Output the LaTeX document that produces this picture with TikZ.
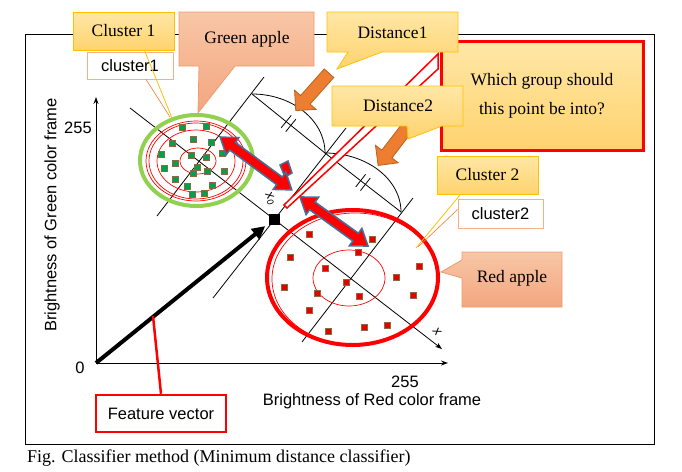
\documentclass[tikz,border=0pt]{standalone}
\usepackage{fontspec}
\setmainfont{Liberation Serif}
\setsansfont{Liberation Sans}
\usetikzlibrary{arrows.meta,shapes.arrows}

\definecolor{goldline}{HTML}{FFC000}
\definecolor{goldtop}{HTML}{FFE7A6}
\definecolor{goldbot}{HTML}{FFD36E}
\definecolor{salmontop}{HTML}{F8C6A6}
\definecolor{salmonbot}{HTML}{F3A67F}
\definecolor{salmonline}{HTML}{EE9B6E}
\definecolor{orangefill}{HTML}{ED7D31}
\definecolor{orangeline}{HTML}{B5631F}
\definecolor{applegreen}{HTML}{92D050}
\definecolor{dotgreen}{HTML}{00A050}
\definecolor{dotrim}{HTML}{8C6A3C}
\definecolor{slateline}{HTML}{41719C}
\definecolor{lightorange}{HTML}{F4B183}

\tikzset{
  lblserif/.style={font=\fontsize{17.5}{20}\selectfont, inner sep=0pt},
  lblsans/.style={font=\sffamily\fontsize{16.5}{19}\selectfont, inner sep=0pt},
  axlbl/.style={font=\sffamily\itshape\fontsize{13}{13}\selectfont, inner sep=0pt},
  goldbox/.style={draw=goldline, line width=0.8pt, top color=goldtop, bottom color=goldbot},
  salmonbox/.style={draw=salmonline, line width=0.8pt, top color=salmontop, bottom color=salmonbot},
  tagbox/.style={draw=lightorange, line width=0.8pt, fill=white, inner sep=0pt},
  gdot/.style={rectangle, fill=dotgreen, draw=dotrim, line width=0.6pt, minimum size=6pt, inner sep=0pt},
  rdot/.style={rectangle, fill=red!90!black, draw=dotrim, line width=0.6pt, minimum size=6pt, inner sep=0pt},
  dblarr/.style={double arrow, draw=slateline, line width=1.5pt, fill=red, inner xsep=0pt, inner ysep=4pt,
    double arrow head extend=6pt, double arrow tip angle=70, minimum height=#1},
  orarr/.style={single arrow, draw=orangeline, line width=0.8pt, fill=orangefill, inner xsep=0pt, inner ysep=6pt,
    single arrow head extend=8pt, single arrow tip angle=90, minimum height=#1},
  dimticks/.pic={\draw[line width=0.8pt] (-3,-8) -- (-3,8) (3,-8) -- (3,8);}
}

\begin{document}
\begin{tikzpicture}[x=1pt, y=-1pt]
    \useasboundingbox (0,0) rectangle (682,471);

    % Frame
    \draw[line width=0.9pt] (25,34) rectangle (654,444);

    % Axes
    \coordinate (O) at (96,363);
    \coordinate (xend) at (448,363);
    \coordinate (yend) at (96,97);
    \draw[line width=1pt, -{Stealth[length=7pt,width=5pt]}] (O) -- (xend);
    \draw[line width=1pt, -{Stealth[length=7pt,width=5pt]}] (O) -- (yend);

    % Projection axis through both clusters and the perpendiculars
    \coordinate (Ls) at (130,108);
    \coordinate (Le) at (442,349);
    \draw[line width=0.8pt, -{Stealth[length=7pt,width=5pt]}] (Ls) -- (Le);
    \coordinate (P1s) at (157,216);  \coordinate (P1e) at (264,77);
    \coordinate (P2s) at (213,298);  \coordinate (P2e) at (346,128);
    \coordinate (P3s) at (302,342);  \coordinate (P3e) at (413,198);
    \draw[line width=0.8pt] (P1s) -- (P1e);
    \draw[line width=0.8pt] (P2s) -- (P2e);
    \draw[line width=0.8pt] (P3s) -- (P3e);

    % Equal distances
    \coordinate (A) at (252,94);
    \coordinate (B) at (325,153);
    \coordinate (C) at (401,212);
    \draw[line width=0.8pt] (A) -- (B) -- (C);
    \draw[line width=0.8pt] (A) arc[start angle=90, end angle=0, x radius=73pt, y radius=59pt];
    \draw[line width=0.8pt] (B) arc[start angle=90, end angle=0, x radius=76pt, y radius=59pt];
    \pic[rotate=-39] at (288.5,123.5) {dimticks};
    \pic[rotate=-38] at (363,182.5) {dimticks};

    % Cluster 1 - green apple
    \draw[applegreen, line width=4pt] (196.5,160.5) ellipse[x radius=56.5pt, y radius=45.5pt];
    \draw[red, line width=0.7pt] (196,161) ellipse[x radius=50pt, y radius=40pt];
    \draw[red, line width=0.7pt] (196,161) ellipse[x radius=47pt, y radius=38pt];
    \draw[red, line width=0.7pt] (196,161) ellipse[x radius=39pt, y radius=31pt];
    \draw[red, line width=0.7pt] (198,161) ellipse[x radius=18pt, y radius=13pt];
    \foreach \x/\y [count=\i] in {182/127, 206/126, 172/143, 193/139, 211/142, 161/154, 191/155,
        206/157, 222/153, 175/163, 164/168, 197/167, 193/173, 207/171, 224/171, 175/179,
        187/186, 212/185, 192/194, 204/193}
        \node[gdot] (g\i) at (\x,\y) {};

    % Cluster 2 - red apple
    \draw[red, line width=4pt] (352.5,277.5) ellipse[x radius=85.5pt, y radius=67.5pt];
    \draw[red, line width=0.7pt] (355,279) ellipse[x radius=83pt, y radius=66pt];
    \draw[red, line width=0.7pt] (349,278) ellipse[x radius=36pt, y radius=28pt];
    \foreach \x/\y [count=\i] in {309/234, 372/239, 358/252, 290/257, 325/268, 419/266,
        396/277, 346/282, 284/287, 359/296, 317/293, 413/295, 309/310, 328/331,
        364/327, 387/325}
        \node[rdot] (r\i) at (\x,\y) {};

    % Feature vector and unknown point
    \node[fill=black, minimum size=11pt, inner sep=0pt] (x0) at (274,219) {};
    \draw[line width=4pt, shorten >=4pt, -{Triangle[length=13pt,width=13pt]}] (O) -- (x0);
    \node[axlbl, rotate=-62] (x0lbl) at (270,199) {x\textsubscript{0}};
    \node[axlbl, rotate=-50] (xlbl) at (437,332) {x};

    % Distance arrows
    \draw[slateline, line width=1.5pt, fill=red] (280,165) -- (288,161) -- (292,173) -- (285,177) -- cycle;
    \node[dblarr=89pt, rotate=-36.4] (d1) at (256,163.5) {};
    \node[dblarr=84pt, rotate=-35.8] (d2) at (334,221.5) {};

    % Question box
    \draw[red, line width=1.5pt, fill=white] (438,54) -- (284,205) -- (287,208) -- (438,69) -- cycle;
    \node[goldbox, draw=red, line width=3pt, minimum width=202pt, minimum height=109pt, align=center,
        font=\fontsize{17.5}{29}\selectfont] (ask) at (542,95.5) {Which group should\\this point be into?};

    % Orange arrows
    \node[orarr=50pt, rotate=228.3] (o1) at (314.5,89.5) {};
    \node[orarr=54pt, rotate=232.5] (o2) at (396.5,141.5) {};

    % Callouts
    \path[salmonbox] (179,12) -- (314,12) -- (314,66) -- (235,66) -- (198,113) -- (199,66) -- (179,66) -- cycle;
    \node[lblserif] (green) at (247,39) {Green apple};
    \path[goldbox] (327,12) -- (458,12) -- (458,52) -- (382,52) -- (337,69) -- (348,52) -- (327,52) -- cycle;
    \node[lblserif] (dist1) at (392.5,33) {Distance1};
    \path[goldbox] (332,86) -- (463,86) -- (463,126) -- (442,126) -- (408,139) -- (407,126) -- (332,126) -- cycle;
    \node[lblserif] (dist2) at (398,106) {Distance2};
    \path[salmonbox] (462,252) -- (562,252) -- (562,307) -- (462,307) -- (462,278) -- (441,272) -- (462,260) -- cycle;
    \node[lblserif] (redapp) at (512,278) {Red apple};

    % Cluster tags
    \node[goldbox, lblserif, minimum width=101pt, minimum height=38pt] (clus1) at (123.5,31) {Cluster 1};
    \node[tagbox, lblsans, minimum width=86pt, minimum height=27pt] (tag1) at (130,65.5) {cluster1};
    \node[goldbox, lblserif, minimum width=101pt, minimum height=38pt] (clus2) at (487.5,175) {Cluster 2};
    \node[tagbox, lblsans, minimum width=85pt, minimum height=29pt] (tag2) at (500.5,213.5) {cluster2};
    \coordinate (c1a) at (172,118);
    \coordinate (c1b) at (170,117);
    \coordinate (c2a) at (416,248);
    \coordinate (c2b) at (418,247);
    \draw[goldline, line width=0.8pt] ([xshift=21pt]clus1.south) -- (c1a);
    \draw[orangefill, line width=0.6pt] ([xshift=16pt]tag1.south) -- (c1b);
    \draw[goldline, line width=0.8pt] ([xshift=-27pt]clus2.south) -- (c2a);
    \draw[orangefill, line width=0.6pt] ([yshift=4pt]tag2.west) -- (c2b);

    % Feature vector tag
    \coordinate (fvpt) at (153,316);
    \node[lblsans, draw=red, line width=2.5pt, fill=white, minimum width=130pt, minimum height=37pt] (fv) at (161,413.5) {Feature vector};
    \draw[red, line width=2.5pt] (fv.north) -- (fvpt);

    % Axis labels
    \node[lblsans] (ymax) at (78,128) {255};
    \node[lblsans] (zero) at (80,368) {0};
    \node[lblsans] (xmax) at (405,382) {255};
    \node[lblsans] (xlab) at (372,401) {Brightness of Red color frame};
    \node[lblsans, rotate=90] (ylab) at (52,215) {Brightness of Green color frame};

    % Caption
    \node[lblserif, anchor=west, font=\fontsize{18}{20}\selectfont] (cap) at (27,458) {Fig. Classifier method (Minimum distance classifier)};
\end{tikzpicture}
\end{document}
